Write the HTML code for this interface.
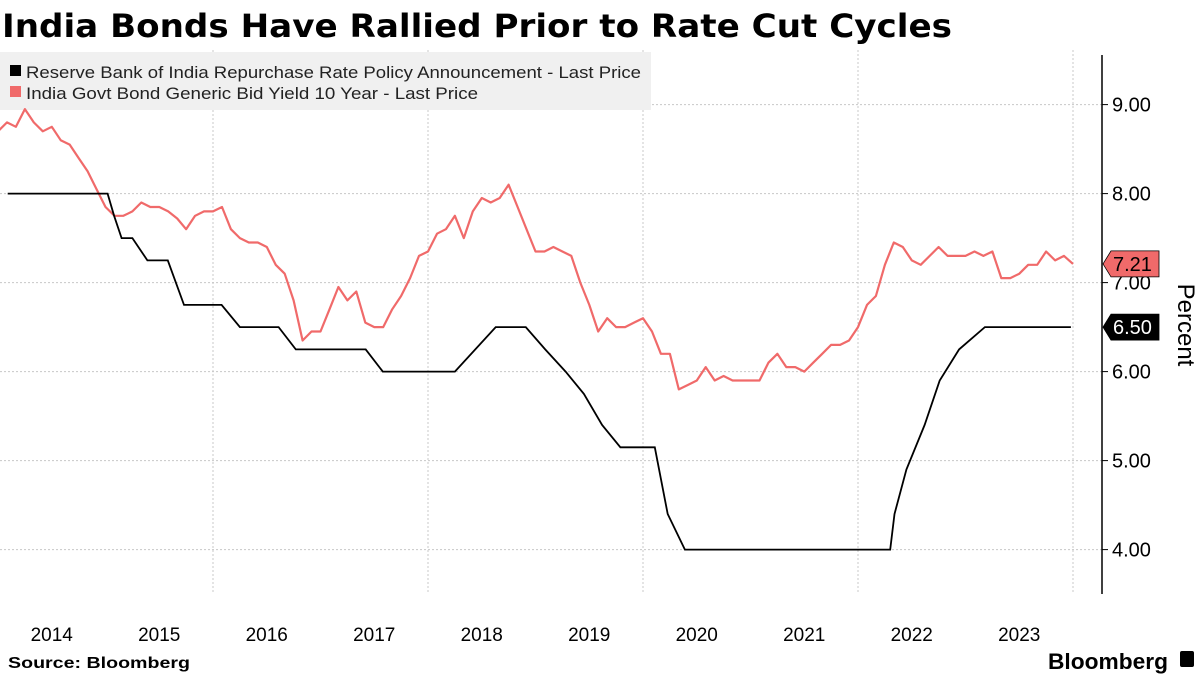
<!DOCTYPE html>
<html><head><meta charset="utf-8"><style>
body{margin:0;background:#fff;font-family:"Liberation Sans",sans-serif;}
#wrap{position:relative;width:1200px;height:675px;overflow:hidden;}
</style></head><body>
<div id="wrap">
<svg id="chart" width="1200" height="675">
<text x="2" y="37" font-size="32" font-weight="bold" fill="#000" textLength="950" lengthAdjust="spacingAndGlyphs" font-family="DejaVu Sans, Liberation Sans, sans-serif">India Bonds Have Rallied Prior to Rate Cut Cycles</text>
<g id="grid"></g>
<rect x="0" y="52" width="651" height="58" fill="#f0f0f0"/>
<g><rect x="10" y="65" width="11" height="11" fill="#000"/><text x="26" y="78" font-size="17" fill="#222" textLength="615" lengthAdjust="spacingAndGlyphs">Reserve Bank of India Repurchase Rate Policy Announcement - Last Price</text></g>
<g><rect x="10" y="86" width="11" height="11" fill="#f06a6a"/><text x="26" y="99" font-size="17" fill="#222" textLength="452" lengthAdjust="spacingAndGlyphs">India Govt Bond Generic Bid Yield 10 Year - Last Price</text></g>
<g id="series"></g>
<g id="axes"></g>
<text transform="translate(1178,325) rotate(90)" text-anchor="middle" font-size="24" fill="#000">Percent</text>
<text x="8" y="668" font-size="16" font-weight="bold" fill="#000" textLength="182" lengthAdjust="spacingAndGlyphs">Source: Bloomberg</text>
<text x="1048" y="669" font-size="22" font-weight="bold" fill="#000" textLength="120" lengthAdjust="spacingAndGlyphs">Bloomberg</text>
<rect x="1180" y="651" width="14" height="16" rx="2" fill="#000"/>
</svg>
</div>
<script>
const yTicks=[4,5,6,7,8,9];
const yTickLabels=["4.00","5.00","6.00","7.00","8.00","9.00"];
const years=[2014,2015,2016,2017,2018,2019,2020,2021,2022,2023];
const gridYears=[2016,2018,2020,2022,2024];
const repoDates=[2014.09,2015.02,2015.08,2015.15,2015.25,2015.39,2015.58,2015.73,2016.08,2016.25,2016.61,2016.77,2017.42,2017.58,2018.25,2018.63,2018.91,2019.09,2019.28,2019.45,2019.62,2019.79,2020.11,2020.23,2020.39,2022.30,2022.34,2022.45,2022.62,2022.76,2022.94,2023.18,2023.98];
const repoValues=[8.0,8.0,7.75,7.5,7.5,7.25,7.25,6.75,6.75,6.5,6.5,6.25,6.25,6.0,6.0,6.5,6.5,6.25,6.0,5.75,5.4,5.15,5.15,4.4,4.0,4.0,4.4,4.9,5.4,5.9,6.25,6.5,6.5];
const bondValues=[8.7,8.8,8.75,8.95,8.8,8.7,8.75,8.6,8.55,8.4,8.25,8.05,
7.85,7.75,7.75,7.8,7.9,7.85,7.85,7.8,7.72,7.6,7.75,7.8,
7.8,7.85,7.6,7.5,7.45,7.45,7.4,7.2,7.1,6.8,6.35,6.45,
6.45,6.7,6.95,6.8,6.9,6.55,6.5,6.5,6.7,6.85,7.05,7.3,
7.35,7.55,7.6,7.75,7.5,7.8,7.95,7.9,7.95,8.1,7.85,7.6,
7.35,7.35,7.4,7.35,7.3,7.0,6.75,6.45,6.6,6.5,6.5,6.55,
6.6,6.45,6.2,6.2,5.8,5.85,5.9,6.05,5.9,5.95,5.9,5.9,
5.9,5.9,6.1,6.2,6.05,6.05,6.0,6.1,6.2,6.3,6.3,6.35,
6.5,6.75,6.85,7.2,7.45,7.4,7.25,7.2,7.3,7.4,7.3,7.3,
7.3,7.35,7.3,7.35,7.05,7.05,7.1,7.2,7.2,7.35,7.25,7.3,7.21];
const bondStart=2014.0;
const lastBond=7.21, lastRepo=6.50;

const NS="http://www.w3.org/2000/svg";
const X0=-2, PX_YEAR=107.5, Y9=104.6, PX_UNIT=89, AXIS_X=1102;
function xs(t){return X0+(t-2014)*PX_YEAR;}
function ys(v){return Y9+(9-v)*PX_UNIT;}
function mk(tag,attrs,parent){const e=document.createElementNS(NS,tag);for(const k in attrs)e.setAttribute(k,attrs[k]);parent.appendChild(e);return e;}
const grid=document.getElementById('grid'), axes=document.getElementById('axes'), series=document.getElementById('series');
yTicks.forEach((v,i)=>{
  const l=mk('line',{x1:0,x2:AXIS_X,y1:ys(v),y2:ys(v),stroke:'#c8c8c8','stroke-dasharray':'2,2'},grid);
  
  
  const t=mk('line',{x1:AXIS_X,x2:AXIS_X+6,y1:ys(v),y2:ys(v),stroke:'#000'},axes);
  
  
  const tx=mk('text',{x:AXIS_X+10,y:ys(v)+7,'font-size':20,fill:'#000'},axes);
  tx.textContent=yTickLabels[i];
  
  
});
gridYears.forEach(y=>{
  const l=mk('line',{x1:xs(y),x2:xs(y),y1:50,y2:594,stroke:'#c8c8c8','stroke-dasharray':'2,2'},grid);
  
  
});
years.forEach(y=>{
  const t=mk('text',{x:xs(y+0.5),y:641,'font-size':19,'text-anchor':'middle',fill:'#000'},axes);
  t.textContent=String(y);
  
  
});
const ax=mk('line',{x1:AXIS_X,x2:AXIS_X,y1:55,y2:594,stroke:'#000','stroke-width':1.5},axes);


let d=bondValues.map((v,i)=>(i?'L':'M')+xs(bondStart+i/12).toFixed(1)+','+ys(v).toFixed(1)).join('');
const bp=mk('path',{d:d,fill:'none',stroke:'#f06a6a','stroke-width':2.2,'stroke-linejoin':'round'},series);


d=repoDates.map((t,i)=>(i?'L':'M')+xs(t).toFixed(1)+','+ys(repoValues[i]).toFixed(1)).join('');
const rp=mk('path',{d:d,fill:'none',stroke:'#000','stroke-width':1.8},series);


function tag(v,fill,tc,name){
  const y=ys(v), g=mk('g',{},axes);
  
  
  mk('path',{d:`M${AXIS_X+1},${y} L${AXIS_X+9},${y-13} L${AXIS_X+57},${y-13} L${AXIS_X+57},${y+13} L${AXIS_X+9},${y+13} Z`,fill:fill,stroke:'#000','stroke-width':0.8},g);
  const t=mk('text',{x:AXIS_X+11,y:y+7,'font-size':20,fill:tc},g);
  t.textContent=v.toFixed(2);
}
tag(lastBond,'#f06a6a','#000','last-bond-label');
tag(lastRepo,'#000','#fff','last-repo-label');
</script>
</body></html>
